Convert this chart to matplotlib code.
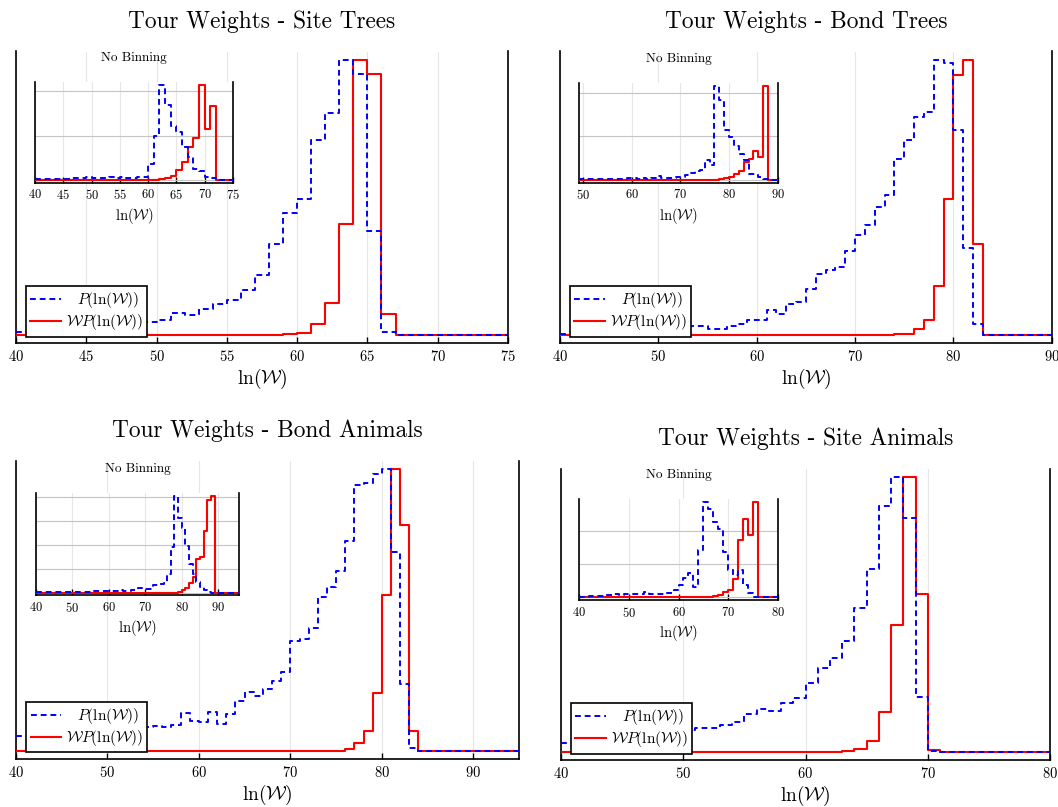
import numpy as np
import matplotlib
matplotlib.use("Agg")
from matplotlib import pyplot as plt

plt.rcParams['font.family'] = ['cmr10', 'DejaVu Serif']
plt.rcParams['mathtext.fontset'] = 'cm'
plt.rcParams['axes.formatter.use_mathtext'] = True

# ---- data: histogram heights per unit bin of ln(W), first bin starts at *_start ----
# Site Trees
site_trees_start = 40
site_trees_p = [0.012, 0.015, 0.018, 0.021, 0.025, 0.029, 0.034, 0.039, 0.045, 0.05,
                0.057, 0.081, 0.073, 0.097, 0.112, 0.127, 0.166, 0.218, 0.333, 0.444,
                0.493, 0.707, 0.808, 1.0, 0.947, 0.378, 0.012, 0, 0, 0, 0, 0, 0, 0, 0]
site_trees_wp = [0] * 18 + [0.001, 0.004, 0.01, 0.04, 0.117, 0.403, 1.0, 0.947, 0.079] + [0] * 8
site_trees_inset_start = 40
site_trees_inset_p = [0.015] * 6 + [0.05, 0.04, 0.05, 0.06, 0.04, 0.05, 0.04, 0.06, 0.05, 0.07,
                                    0.04, 0.05, 0.06, 0.06, 0.35, 0.99, 2.15, 1.68, 1.21, 1.08,
                                    0.75, 0.52, 0.25, 0.21, 0.06, 0.04, 0, 0, 0]
site_trees_inset_wp = [0] * 21 + [0.01, 0.02, 0.05, 0.09, 0.22, 0.41, 0.75, 0.95, 2.15, 1.14,
                                  1.66, 0, 0, 0]

# Bond Trees
bond_trees_start = 40
bond_trees_p = [0.004, 0.006, 0.008, 0.01, 0.012, 0.014, 0.016, 0.018, 0.02, 0.022,
                0.025, 0.027, 0.03, 0.032, 0.034, 0.021, 0.024, 0.033, 0.04, 0.057,
                0.054, 0.093, 0.079, 0.115, 0.121, 0.169, 0.224, 0.236, 0.248, 0.306,
                0.365, 0.399, 0.466, 0.508, 0.641, 0.707, 0.794, 0.81, 1.0, 0.988,
                0.746, 0.318, 0.042] + [0] * 7
bond_trees_wp = [0] * 34 + [0.003, 0.006, 0.021, 0.057, 0.179, 0.493, 0.943, 1.0, 0.33] + [0] * 7
bond_trees_inset_start = 49
bond_trees_inset_p = [0.02, 0.02, 0.03, 0.02, 0.02, 0.03, 0.02, 0.03, 0.02, 0.03,
                      0.05, 0.04, 0.03, 0.04, 0.03, 0.05, 0.1, 0.05, 0.04, 0.05,
                      0.075, 0.07, 0.11, 0.165, 0.2, 0.24, 0.45, 0.34, 2.17, 1.84,
                      1.14, 0.98, 0.79, 0.6, 0.45, 0.15, 0.135, 0.075, 0.015, 0, 0]
bond_trees_inset_wp = [0] * 28 + [0.005, 0.015, 0.04, 0.075, 0.135, 0.21, 0.41, 0.49, 0.66,
                                  0.53, 2.17, 0, 0]

# Bond Animals
bond_animals_start = 40
bond_animals_p = [0.053, 0.055, 0.057, 0.059, 0.061, 0.063, 0.065, 0.067, 0.07, 0.072,
                  0.075, 0.078, 0.08, 0.082, 0.085, 0.088, 0.086, 0.091, 0.135, 0.105,
                  0.103, 0.138, 0.097, 0.132, 0.179, 0.211, 0.195, 0.221, 0.25, 0.282,
                  0.392, 0.398, 0.437, 0.545, 0.581, 0.64, 0.743, 0.943, 0.95, 0.982,
                  1.0, 0.707, 0.237, 0.01] + [0] * 11
bond_animals_wp = [0] * 35 + [0.002, 0.006, 0.027, 0.072, 0.206, 0.554, 1.0, 0.8, 0.073] + [0] * 11
bond_animals_inset_start = 40
bond_animals_inset_p = [0.02] * 9 + [0.04] * 6 + [0.06, 0.07, 0.06, 0.08, 0.07, 0.06, 0.08,
                                                  0.07, 0.09, 0.07, 0.08, 0.09, 0.1,
                                                  0.18, 0.14, 0.14, 0.16, 0.3, 0.32, 0.34,
                                                  0.41, 0.79, 1.89, 4.04, 3.12, 2.71, 1.96,
                                                  1.2, 0.79, 0.45, 0.22, 0.11, 0.04] + [0] * 8
bond_animals_inset_wp = [0] * 39 + [0.04, 0.11, 0.18, 0.38, 0.66, 1.41, 1.48, 2.58, 3.85,
                                    4.04] + [0] * 7

# Site Animals
site_animals_start = 40
site_animals_p = [0.034, 0.038, 0.042, 0.046, 0.05, 0.055, 0.06, 0.065, 0.07, 0.076,
                  0.082, 0.088, 0.09, 0.099, 0.111, 0.14, 0.157, 0.15, 0.181, 0.197,
                  0.253, 0.308, 0.343, 0.404, 0.525, 0.665, 0.895, 1.0, 0.851, 0.202,
                  0.005] + [0] * 9
site_animals_wp = [0] * 23 + [0.004, 0.011, 0.041, 0.148, 0.462, 1.0, 0.577, 0.008] + [0] * 9
site_animals_inset_start = 40
site_animals_inset_p = [0.02, 0.02, 0.04, 0.04, 0.04, 0.07, 0.07, 0.09, 0.08, 0.1,
                        0.09, 0.11, 0.1, 0.17, 0.09, 0.1, 0.09, 0.14, 0.13, 0.22,
                        0.37, 0.57, 0.72, 0.3, 1.42, 2.87, 2.67, 2.27, 2.07, 1.37,
                        0.82, 0.67, 0.82, 0.37, 0.12, 0.02, 0, 0, 0, 0]
site_animals_inset_wp = [0] * 25 + [0.01, 0.02, 0.04, 0.08, 0.17, 0.22, 0.54, 1.72, 2.37,
                                    1.87, 2.87, 0, 0, 0, 0]

W_PX, H_PX = 1058, 807
GRID_LIGHT = '#e6e6e6'
GRID_MID = '#c4c4c4'


def px_rect(left, top, right, bottom):
    return [left / W_PX, 1 - bottom / H_PX, (right - left) / W_PX, (bottom - top) / H_PX]


def draw_steps(ax, start, p, wp):
    edges = np.arange(start, start + len(p) + 1)
    ax.step(edges, np.append(wp, wp[-1]), where='post', color='#ff0000', lw=1.5,
            zorder=3, label=r'$\mathcal{W}P(\ln(\mathcal{W}))$')
    ax.step(edges, np.append(p, p[-1]), where='post', color='#0000ff', lw=1.4,
            ls=(0, (3, 2)), zorder=4, label=r'$\;\;\;P(\ln(\mathcal{W}))$')


def style(ax, xlim, xticks, ymax, labelsize, pad):
    ax.set_xlim(*xlim)
    ax.set_ylim(-0.028 * ymax, 1.03 * ymax)
    ax.set_xticks(xticks)
    ax.spines['top'].set_visible(False)
    for s in ('left', 'right', 'bottom'):
        ax.spines[s].set_linewidth(1.2)
    ax.tick_params(axis='x', direction='in', length=4, width=1, labelsize=labelsize, pad=pad)
    ax.tick_params(axis='y', length=0, labelleft=False)
    ax.set_axisbelow(True)


def panel(fig, rect, inset_rect, title, start, p, wp, xlim, xticks,
          i_start, i_p, i_wp, i_xlim, i_xticks, i_grid):
    ax = fig.add_axes(px_rect(*rect))
    draw_steps(ax, start, p, wp)
    style(ax, xlim, xticks, 1.0, 10.5, 4.5)
    ax.set_yticks([])
    ax.grid(axis='x', color=GRID_LIGHT, lw=0.8)
    ax.set_xlabel(r'$\ln(\mathcal{W})$', fontsize=14, labelpad=2)
    ax.set_title(title, fontsize=16.8, pad=17)
    handles, labels = ax.get_legend_handles_labels()
    leg = ax.legend(handles[::-1], labels[::-1], loc='lower left', bbox_to_anchor=(0.02, 0.022),
                    borderaxespad=0, fontsize=11, handlelength=2.0, handletextpad=0.3,
                    borderpad=0.3, labelspacing=0.1, fancybox=False, framealpha=1,
                    edgecolor='black')
    leg.get_frame().set_linewidth(1.2)

    ins = fig.add_axes(px_rect(*inset_rect), facecolor='white')
    draw_steps(ins, i_start, i_p, i_wp)
    ymax = max(max(i_p), max(i_wp))
    style(ins, i_xlim, i_xticks, ymax, 9, 4)
    ins.set_yticks(i_grid)
    ins.grid(axis='x', color=GRID_LIGHT, lw=0.8)
    ins.grid(axis='y', color=GRID_MID, lw=0.8)
    ins.set_xlabel(r'$\ln(\mathcal{W})$', fontsize=10.5, labelpad=2.5)
    ins.set_title('No Binning', fontsize=9.5, pad=15)
    ins.set_zorder(5)


fig = plt.figure(figsize=(W_PX / 100, H_PX / 100), dpi=100)

panel(fig, (16, 51.5, 508, 343), (35, 81.7, 233, 182.7), 'Tour Weights - Site Trees',
      site_trees_start, site_trees_p, site_trees_wp, (40, 75), range(40, 76, 5),
      site_trees_inset_start, site_trees_inset_p, site_trees_inset_wp, (40, 75),
      range(40, 76, 5), [0, 1, 2])

panel(fig, (560, 51.5, 1051.7, 343), (579.3, 82.7, 777.7, 182.7), 'Tour Weights - Bond Trees',
      bond_trees_start, bond_trees_p, bond_trees_wp, (40, 90), range(40, 91, 10),
      bond_trees_inset_start, bond_trees_inset_p, bond_trees_inset_wp, (49.2, 90),
      range(50, 91, 10), [0, 1, 2])

panel(fig, (16, 460.5, 519, 759), (36, 492.7, 239.3, 595.3), 'Tour Weights - Bond Animals',
      bond_animals_start, bond_animals_p, bond_animals_wp, (40, 95), range(40, 91, 10),
      bond_animals_inset_start, bond_animals_inset_p, bond_animals_inset_wp, (40, 95.8),
      range(40, 91, 10), [0, 1, 2, 3, 4])

panel(fig, (561, 469, 1050, 760), (579.3, 499.3, 777.7, 600), 'Tour Weights - Site Animals',
      site_animals_start, site_animals_p, site_animals_wp, (40, 80), range(40, 81, 10),
      site_animals_inset_start, site_animals_inset_p, site_animals_inset_wp, (40, 80),
      range(40, 81, 10), [0, 1, 2])

fig.savefig('out.png', dpi=100)
